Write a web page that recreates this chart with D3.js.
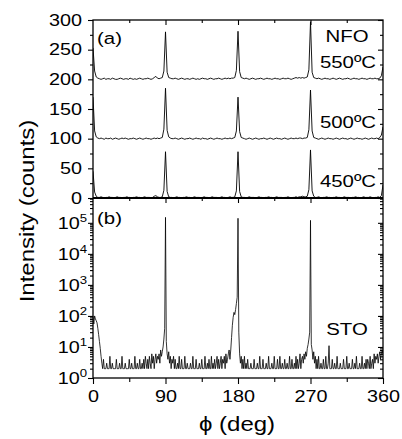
<!DOCTYPE html>
<html>
<head>
<meta charset="utf-8">
<script src="https://cdn.jsdelivr.net/npm/d3@7"></script>
<style>
  body { margin: 0; background: #fff; }
  svg text { font-family: "Liberation Sans", Arial, sans-serif; fill: #000; }
</style>
</head>
<body>
<svg id="chart" width="402" height="439"></svg>
<script>
// phi grid for the NFO scans (every 2 deg) and the STO scan (every 1 deg)
const phiNFO = d3.range(0, 361, 2);
const phiSTO = d3.range(0, 361, 1);

// NFO films, offset by 100 counts each (as plotted)
const nfo550 = [
  253, 214, 204, 202, 201, 200, 201, 202, 200, 201,
  201, 200, 202, 201, 200, 200, 201, 202, 201, 200,
  201, 201, 200, 202, 201, 200, 201, 200, 201, 202,
  201, 200, 201, 201, 202, 201, 200, 201, 203, 205,
  202, 201, 202, 203, 214, 280, 212, 203, 202, 201,
  201, 202, 201, 200, 201, 202, 201, 200, 201, 201,
  200, 201, 202, 201, 200, 201, 200, 201, 202, 201,
  201, 200, 201, 202, 201, 200, 201, 201, 202, 201,
  200, 201, 202, 201, 202, 201, 202, 202, 203, 215,
  281, 213, 203, 202, 201, 202, 201, 200, 201, 202,
  201, 200, 201, 201, 202, 201, 200, 201, 202, 201,
  201, 200, 201, 202, 201, 201, 200, 201, 202, 201,
  201, 202, 201, 200, 201, 202, 203, 202, 203, 202,
  203, 202, 203, 204, 216, 297, 212, 203, 202, 201,
  202, 201, 200, 201, 202, 201, 201, 200, 201, 202,
  201, 200, 201, 202, 201, 200, 201, 201, 202, 201,
  200, 201, 202, 201, 201, 200, 201, 202, 201, 201,
  200, 201, 202, 201, 201, 202, 201, 201, 202, 206,
  221
];
const nfo500 = [
  170, 113, 103, 101, 100, 101, 100, 99, 101, 100,
  100, 101, 99, 100, 101, 100, 99, 100, 101, 100,
  101, 100, 99, 100, 100, 101, 100, 99, 100, 101,
  100, 99, 100, 101, 100, 100, 99, 100, 101, 100,
  101, 100, 101, 102, 116, 185, 114, 103, 101, 100,
  100, 101, 100, 99, 100, 101, 100, 99, 100, 100,
  101, 100, 99, 100, 101, 100, 100, 99, 101, 100,
  100, 99, 100, 101, 100, 99, 100, 101, 100, 100,
  99, 100, 101, 100, 100, 101, 100, 101, 102, 113,
  170, 112, 102, 101, 100, 99, 100, 101, 100, 99,
  100, 101, 100, 99, 100, 100, 101, 100, 99, 100,
  101, 100, 99, 100, 101, 100, 100, 99, 100, 101,
  100, 99, 100, 101, 100, 100, 101, 100, 101, 101,
  100, 101, 101, 102, 115, 182, 113, 102, 101, 100,
  99, 100, 101, 100, 99, 100, 101, 100, 100, 99,
  100, 101, 100, 99, 100, 101, 100, 100, 99, 100,
  101, 100, 99, 100, 101, 100, 100, 99, 100, 101,
  100, 99, 100, 101, 100, 100, 101, 100, 102, 106,
  120
];
const nfo450 = [
  45, 10, 3, 1, 1, 2, 1, 0, 1, 1,
  2, 1, 1, 0, 1, 2, 1, 1, 0, 1,
  1, 2, 1, 1, 0, 1, 1, 2, 1, 1,
  0, 1, 2, 1, 1, 1, 0, 1, 3, 4,
  2, 1, 1, 2, 13, 78, 11, 2, 1, 1,
  0, 1, 2, 1, 1, 0, 1, 1, 2, 1,
  1, 0, 1, 2, 1, 1, 1, 0, 1, 2,
  1, 1, 0, 1, 2, 1, 1, 1, 0, 1,
  2, 1, 1, 0, 1, 2, 1, 1, 2, 12,
  78, 11, 2, 1, 1, 0, 1, 2, 1, 1,
  1, 0, 1, 2, 1, 1, 0, 1, 1, 2,
  1, 1, 0, 1, 2, 1, 1, 1, 0, 1,
  1, 2, 1, 0, 1, 1, 2, 1, 2, 2,
  3, 2, 2, 3, 14, 81, 12, 3, 1, 1,
  2, 1, 0, 1, 1, 2, 1, 1, 0, 1,
  1, 2, 1, 1, 0, 1, 2, 1, 1, 1,
  0, 1, 1, 2, 1, 1, 0, 1, 2, 1,
  1, 1, 2, 1, 0, 1, 1, 2, 1, 4,
  22
];

// STO substrate, log scale
const sto = [
  100, 55, 100, 80, 70, 60, 40, 25, 15, 9,
  5, 3, 2, 4, 2, 2, 2, 3, 2, 2,
  2, 5, 2, 2, 3, 2, 2, 2, 2, 4,
  2, 2, 2, 3, 2, 2, 5, 2, 2, 2,
  3, 2, 2, 2, 2, 4, 2, 2, 3, 2,
  2, 2, 5, 2, 2, 3, 2, 2, 4, 2,
  2, 3, 2, 4, 2, 5, 3, 2, 4, 2,
  5, 3, 2, 6, 3, 5, 2, 4, 6, 3,
  5, 4, 6, 3, 8, 5, 7, 10, 18, 40,
  150000, 15, 6, 4, 7, 3, 5, 2, 4, 3,
  5, 2, 4, 2, 2, 3, 2, 5, 2, 2,
  4, 2, 2, 2, 5, 2, 2, 3, 2, 2,
  2, 3, 2, 2, 5, 2, 2, 2, 4, 2,
  2, 2, 3, 2, 2, 4, 2, 2, 2, 5,
  2, 2, 3, 2, 4, 2, 2, 5, 2, 3,
  2, 4, 2, 3, 5, 2, 4, 2, 3, 5,
  2, 4, 3, 5, 2, 6, 3, 4, 6, 8,
  4, 8, 20, 50, 90, 130, 110, 160, 250, 400,
  140000, 30, 6, 3, 5, 2, 4, 2, 5, 2,
  3, 2, 4, 2, 2, 2, 3, 2, 2, 2,
  4, 2, 2, 2, 3, 2, 2, 5, 2, 2,
  2, 4, 2, 2, 2, 3, 2, 2, 5, 2,
  2, 2, 3, 2, 2, 5, 2, 2, 2, 4,
  2, 2, 5, 2, 2, 3, 2, 2, 4, 2,
  2, 3, 2, 2, 5, 2, 2, 4, 2, 2,
  3, 2, 5, 2, 4, 2, 3, 6, 2, 4,
  5, 3, 6, 4, 7, 5, 9, 12, 18, 30,
  120000, 12, 8, 4, 7, 3, 5, 2, 4, 2,
  5, 2, 2, 3, 2, 2, 4, 2, 2, 5,
  2, 2, 3, 11, 2, 2, 2, 4, 2, 2,
  3, 2, 2, 5, 2, 2, 2, 3, 2, 2,
  2, 4, 2, 2, 2, 5, 2, 2, 3, 2,
  2, 2, 4, 2, 2, 3, 2, 5, 2, 2,
  2, 3, 2, 2, 5, 2, 2, 3, 2, 4,
  2, 4, 3, 2, 5, 2, 3, 4, 2, 6,
  3, 5, 4, 6, 3, 5, 7, 4, 6, 8,
  6
];

const xTicks = [0, 90, 180, 270, 360];
const xMinor = [45, 135, 225, 315];
const yTopTicks = [0, 50, 100, 150, 200, 250, 300];
const yTopMinor = [25, 75, 125, 175, 225, 275];
const yBotTicks = [1, 10, 100, 1000, 10000, 100000];

const panelLabels = [
  { text: '(a)', x: 97, y: 44, anchor: 'start' },
  { text: '(b)', x: 97, y: 224, anchor: 'start' },
  { text: 'NFO', x: 347, y: 42, anchor: 'middle' },
  { text: '550ºC', x: 348, y: 68, anchor: 'middle' },
  { text: '500ºC', x: 348, y: 128, anchor: 'middle' },
  { text: '450ºC', x: 348, y: 187, anchor: 'middle' },
  { text: 'STO', x: 347, y: 335, anchor: 'middle' }
];

const svg = d3.select('#chart');
const K = 1.2; // horizontal stretch of the lettering

const plotL = 93, plotR = 383, plotT = 20, plotM = 198, plotB = 378;

const x = d3.scaleLinear().domain([0, 360]).range([plotL, plotR]);
const yTop = d3.scaleLinear().domain([0, 300]).range([plotM, plotT]);
const yBot = d3.scaleLog().domain([1, Math.pow(10, 5.8)]).range([plotB, plotM]);

// log minor ticks 2..9 per decade
const yBotMinor = [];
for (let d = 1; d <= 100000; d *= 10) {
  for (let m = 2; m <= 9; m++) {
    if (d * m < Math.pow(10, 5.8)) yBotMinor.push(d * m);
  }
}

svg.append('clipPath').attr('id', 'clipTop')
  .append('rect').attr('x', plotL).attr('y', plotT).attr('width', plotR - plotL).attr('height', plotM - plotT);
svg.append('clipPath').attr('id', 'clipBot')
  .append('rect').attr('x', plotL).attr('y', plotM).attr('width', plotR - plotL).attr('height', plotB - plotM);

// traces
const lineTop = d3.line().x((d, i) => x(phiNFO[i])).y(d => yTop(d));
[nfo450, nfo500, nfo550].forEach(series => {
  svg.append('path')
    .datum(series)
    .attr('clip-path', 'url(#clipTop)')
    .attr('d', lineTop)
    .attr('fill', 'none')
    .attr('stroke', '#000')
    .attr('stroke-width', 0.9);
});

const lineBot = d3.line().x((d, i) => x(phiSTO[i])).y(d => yBot(d));
svg.append('path')
  .datum(sto)
  .attr('clip-path', 'url(#clipBot)')
  .attr('d', lineBot)
  .attr('fill', 'none')
  .attr('stroke', '#000')
  .attr('stroke-width', 0.8);

// stretch tick text horizontally around the tick origin
function stretchTicks(g) {
  g.selectAll('text').each(function() {
    const t = d3.select(this);
    const tx = +(t.attr('x') || 0);
    t.attr('x', tx / K).attr('transform', `scale(${K},1)`);
  });
}

function styleAxis(g) {
  g.select('.domain').remove();
  g.selectAll('line').attr('stroke', '#000').attr('stroke-width', 1.1);
}

function addAxis(axis, tx, ty, labels) {
  const g = svg.append('g').attr('transform', `translate(${tx},${ty})`).call(axis);
  styleAxis(g);
  if (!labels) g.selectAll('text').remove();
  else stretchTicks(g);
  return g;
}

// top panel y axes
addAxis(d3.axisLeft(yTop).tickValues(yTopTicks).tickSize(5).tickPadding(6).tickFormat(d3.format('d')), plotL, 0, true)
  .selectAll('text').style('font-size', '16.5px');
addAxis(d3.axisLeft(yTop).tickValues(yTopMinor).tickSize(3), plotL, 0, false);
addAxis(d3.axisLeft(yTop).tickValues(yTopTicks).tickSize(5), plotR, 0, false);
addAxis(d3.axisLeft(yTop).tickValues(yTopMinor).tickSize(3), plotR, 0, false);

// bottom panel y axes (log)
const gLog = addAxis(d3.axisLeft(yBot).tickValues(yBotTicks).tickSize(5).tickPadding(1).tickFormat(d => ''), plotL, 0, true);
gLog.selectAll('text').each(function(d) {
  const t = d3.select(this).style('font-size', '16.5px');
  t.append('tspan').text('10');
  t.append('tspan').attr('dy', '-0.62em').style('font-size', '11px').text(Math.round(Math.log10(d)));
});
addAxis(d3.axisLeft(yBot).tickValues(yBotMinor).tickSize(3), plotL, 0, false);
addAxis(d3.axisLeft(yBot).tickValues(yBotTicks).tickSize(5), plotR, 0, false);
addAxis(d3.axisLeft(yBot).tickValues(yBotMinor).tickSize(3), plotR, 0, false);

// x axes: ticks all point down
[plotT, plotM].forEach(yy => {
  addAxis(d3.axisBottom(x).tickValues([90, 180, 270]).tickSize(5), 0, yy, false);
  addAxis(d3.axisBottom(x).tickValues(xMinor).tickSize(3), 0, yy, false);
});
addAxis(d3.axisBottom(x).tickValues(xTicks).tickSize(6).tickPadding(6).tickFormat(d3.format('d')), 0, plotB, true)
  .selectAll('text').style('font-size', '16.5px');
addAxis(d3.axisBottom(x).tickValues(xMinor).tickSize(4), 0, plotB, false);

// frame
svg.append('rect')
  .attr('x', plotL).attr('y', plotT)
  .attr('width', plotR - plotL).attr('height', plotB - plotT)
  .attr('fill', 'none').attr('stroke', '#000').attr('stroke-width', 1.3);
svg.append('line')
  .attr('x1', plotL).attr('x2', plotR).attr('y1', plotM).attr('y2', plotM)
  .attr('stroke', '#000').attr('stroke-width', 1.8);

// axis titles
svg.append('text')
  .attr('transform', `translate(34,211) rotate(-90) scale(${K},1)`)
  .attr('text-anchor', 'middle')
  .style('font-size', '20px')
  .text('Intensity (counts)');
svg.append('text')
  .attr('transform', `translate(237,431) scale(${K},1)`)
  .attr('text-anchor', 'middle')
  .style('font-size', '20px')
  .text('ϕ (deg)');

// panel labels
panelLabels.forEach(l => {
  svg.append('text')
    .attr('transform', `translate(${l.x},${l.y}) scale(${K},1)`)
    .attr('text-anchor', l.anchor)
    .style('font-size', '17px')
    .text(l.text);
});
</script>
</body>
</html>
